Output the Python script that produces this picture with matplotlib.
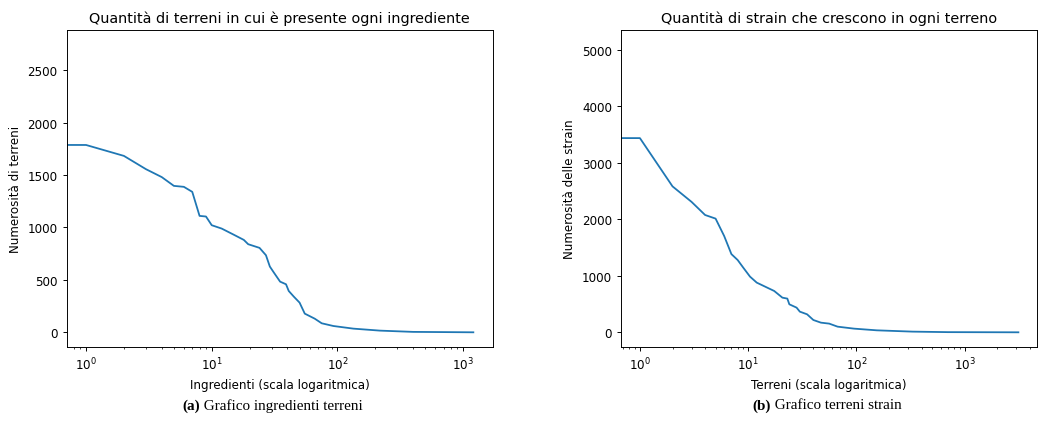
import matplotlib
matplotlib.use("Agg")
import matplotlib.pyplot as plt

# (a) ingredienti: indice dell'ingrediente (ordinato) -> numero di terreni
# il punto in x=0 non si vede in scala log, ma fissa il limite alto dell'asse y
ingr_x = [0, 1, 2, 3, 4, 5, 6, 7, 8, 9, 10, 12, 15, 18, 19.5, 24, 27, 29, 31, 35,
          39, 41, 45, 50, 55, 66, 75, 93, 134, 218, 400, 1207]
ingr_y = [2745, 1786, 1682, 1555, 1480, 1396, 1387, 1339, 1110, 1104, 1021, 989,
          930, 881, 840, 805, 735, 627, 575, 483, 458, 394, 340, 283, 178, 130, 86,
          60, 35, 16, 4, 0]

# (b) terreni: indice del terreno (ordinato) -> numero di strain
terr_x = [0, 1, 2, 3, 4, 5, 6, 7, 8, 9, 10.4, 12, 15, 17.4, 20.7, 23, 24, 28, 30,
          35, 40, 47, 56, 67, 95, 154, 330, 700, 3133]
terr_y = [5100, 3440, 2585, 2310, 2078, 2014, 1706, 1385, 1280, 1146, 986, 880,
          791, 732, 614, 597, 496, 437, 366, 319, 218, 171, 154, 100, 65, 35, 12,
          3, 0]

W, H = 1038, 427
fig = plt.figure(figsize=(W / 100, H / 100), dpi=100)

s = 0.86  # scala rispetto allo stile di default
plt.rcParams['lines.linewidth'] = 1.5 * s
plt.rcParams['axes.linewidth'] = 0.8 * s
for a in ['xtick', 'ytick']:
    plt.rcParams[a + '.major.size'] = 3.5 * s
    plt.rcParams[a + '.minor.size'] = 2 * s
    plt.rcParams[a + '.major.width'] = 0.8 * s
    plt.rcParams[a + '.minor.width'] = 0.6 * s
    plt.rcParams[a + '.labelsize'] = 10 * s

def px_axes(x0, y0, x1, y1):
    return fig.add_axes([x0 / W, (H - y1) / H, (x1 - x0) / W, (y1 - y0) / H])

ax1 = px_axes(66.7, 31, 492.7, 347.7)
ax1.plot(ingr_x, ingr_y)
ax1.set_xscale('log')
ax1.set_title('Quantità di terreni in cui è presente ogni ingrediente', fontsize=12 * s)
ax1.set_xlabel('Ingredienti (scala logaritmica)', fontsize=10 * s)
ax1.set_ylabel('Numerosità di terreni', fontsize=10 * s)

ax2 = px_axes(621, 31, 1037.3, 347.7)
ax2.plot(terr_x, terr_y)
ax2.set_xscale('log')
ax2.set_title('Quantità di strain che crescono in ogni terreno', fontsize=12 * s)
ax2.set_xlabel('Terreni (scala logaritmica)', fontsize=10 * s)
ax2.set_ylabel('Numerosità delle strain', fontsize=10 * s)

# didascalie in stile LaTeX
renderer = fig.canvas.get_renderer()
for cx, tag, rest in [(273, '(a)', ' Grafico ingredienti terreni'),
                      (827, '(b)', ' Grafico terreni strain')]:
    t1 = fig.text(0, 1 - 406 / H, tag, family='Liberation Serif', weight='bold',
                  fontsize=10.9, va='center')
    t2 = fig.text(0, 1 - 406 / H, rest, family='Liberation Serif',
                  fontsize=10.9, va='center')
    w1 = t1.get_window_extent(renderer).width
    w2 = t2.get_window_extent(renderer).width
    left = cx - (w1 + w2) / 2
    t1.set_x(left / W)
    t2.set_x((left + w1) / W)

fig.savefig('out.png', dpi=100)
